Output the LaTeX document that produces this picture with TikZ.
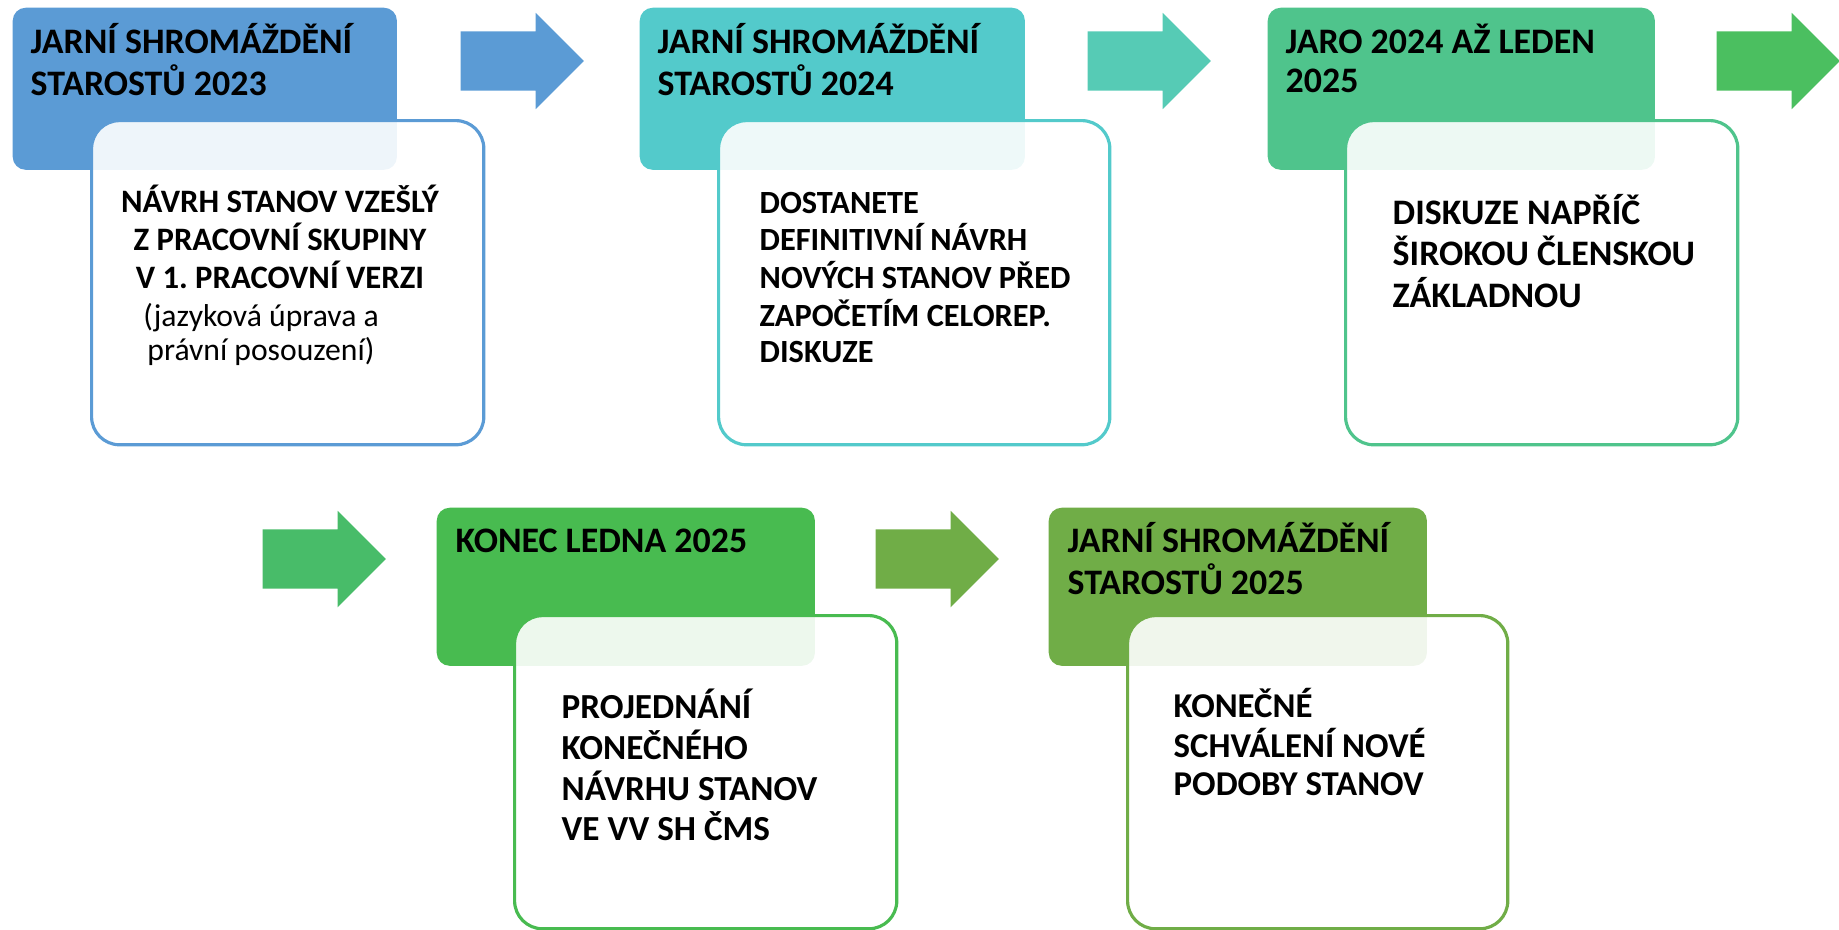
\documentclass[tikz,border=0pt]{standalone}
\usepackage{fontspec}
\setmainfont{Carlito}
\frenchspacing
\usetikzlibrary{shapes.arrows}

\definecolor{blu}{RGB}{91,155,213}
\definecolor{tea}{RGB}{83,202,203}
\definecolor{teaarr}{RGB}{86,203,181}
\definecolor{mint}{RGB}{79,196,140}
\definecolor{mintarr}{RGB}{75,191,96}
\definecolor{grnarr}{RGB}{72,188,105}
\definecolor{grn}{RGB}{72,187,80}
\definecolor{oliv}{RGB}{112,173,71}

\newcommand{\leftlines}[1]{\begin{tabular}[t]{@{}l@{}}#1\end{tabular}}
\newcommand{\centerlines}[1]{\begin{tabular}[t]{@{}c@{}}#1\end{tabular}}

\tikzset{
  hdbox/.style={fill=#1, rounded corners=0.13cm, anchor=north west, inner sep=0pt, minimum height=1.62cm},
  bodybox/.style={draw=#1, line width=0.9pt, fill=white, fill opacity=0.9, rounded corners=0.28cm, anchor=north west, inner sep=0pt},
  hdtext/.style={anchor=base west, inner sep=0pt, font=\fontsize{10.2}{11.1}\selectfont\bfseries},
  bodytext/.style={anchor=base west, inner sep=0pt},
  blockarrow/.style={shape=single arrow, fill=#1, single arrow head extend=0.185cm, minimum width=0.95cm, minimum height=1.23cm, inner xsep=0pt, inner ysep=0.29cm, anchor=west}
}

\begin{document}
\begin{tikzpicture}[x=0.01cm, y=-0.01cm]
\useasboundingbox (0,0) rectangle (1839,929);

% first row
\node[hdbox=blu, minimum width=3.84cm] (h1) at (12,7) {};
\node[bodybox=blu, minimum width=3.92cm, minimum height=3.24cm] (b1) at (90,119) {};
\node[hdtext] (h1t) at (30,53) {\leftlines{JARNÍ SHROMÁŽDĚNÍ\\STAROSTŮ 2023}};
\node[anchor=base, inner sep=0pt, font=\fontsize{9.3}{10.2}\selectfont\bfseries] (b1t) at (280,212)
  {\centerlines{NÁVRH STANOV VZEŠLÝ\\Z PRACOVNÍ SKUPINY\\V 1. PRACOVNÍ VERZI}};
\node[anchor=base, inner sep=0pt, font=\fontsize{9}{9.7}\selectfont] (b1n) at (261,326)
  {\centerlines{(jazyková úprava a\\právní posouzení)}};
\node[blockarrow=blu] (a1) at (460,61) {};

\node[hdbox=tea, minimum width=3.85cm] (h2) at (639,7) {};
\node[bodybox=tea, minimum width=3.91cm, minimum height=3.24cm] (b2) at (717,119) {};
\node[hdtext] (h2t) at (657,53) {\leftlines{JARNÍ SHROMÁŽDĚNÍ\\STAROSTŮ 2024}};
\node[bodytext, font=\fontsize{9.2}{10.2}\selectfont\bfseries] (b2t) at (759,213)
  {\leftlines{DOSTANETE\\DEFINITIVNÍ NÁVRH\\NOVÝCH STANOV PŘED\\ZAPOČETÍM CELOREP.\\DISKUZE}};
\node[blockarrow=teaarr] (a2) at (1087,61) {};

\node[hdbox=mint, minimum width=3.87cm] (h3) at (1267,7) {};
\node[bodybox=mint, minimum width=3.92cm, minimum height=3.24cm] (b3) at (1344,119) {};
\node[hdtext] (h3t) at (1285,53) {\leftlines{JARO 2024 AŽ LEDEN\\2025}};
\node[bodytext, font=\fontsize{10.2}{11.1}\selectfont\bfseries] (b3t) at (1392,224)
  {\leftlines{DISKUZE NAPŘÍČ\\ŠIROKOU ČLENSKOU\\ZÁKLADNOU}};
\node[blockarrow=mintarr] (a3) at (1716,61) {};

% second row
\node[blockarrow=grnarr] (a4) at (262,559) {};
\node[hdbox=grn, minimum width=3.78cm, minimum height=1.58cm] (h4) at (436,507) {};
\node[bodybox=grn, minimum width=3.82cm, minimum height=3.13cm] (b4) at (513,614) {};
\node[hdtext] (h4t) at (455,552) {\leftlines{KONEC LEDNA 2025}};
\node[bodytext, font=\fontsize{10}{11}\selectfont\bfseries] (b4t) at (561,718)
  {\leftlines{PROJEDNÁNÍ\\KONEČNÉHO\\NÁVRHU STANOV\\VE VV SH ČMS}};
\node[blockarrow=oliv] (a5) at (875,559) {};

\node[hdbox=oliv, minimum width=3.78cm, minimum height=1.58cm] (h5) at (1048,507) {};
\node[bodybox=oliv, minimum width=3.80cm, minimum height=3.13cm] (b5) at (1126,614) {};
\node[hdtext] (h5t) at (1067,552) {\leftlines{JARNÍ SHROMÁŽDĚNÍ\\STAROSTŮ 2025}};
\node[bodytext, font=\fontsize{9.9}{10.8}\selectfont\bfseries] (b5t) at (1173,717)
  {\leftlines{KONEČNÉ\\SCHVÁLENÍ NOVÉ\\PODOBY STANOV}};
\end{tikzpicture}
\end{document}
